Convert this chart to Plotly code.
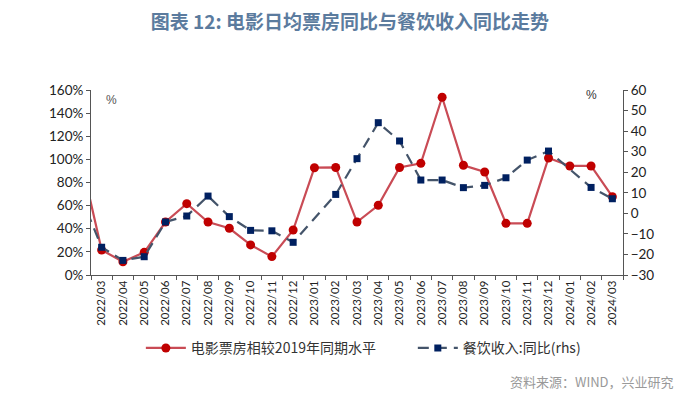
import plotly.graph_objects as go

months = ["2022/02", "2022/03", "2022/04", "2022/05", "2022/06", "2022/07", "2022/08", "2022/09",
          "2022/10", "2022/11", "2022/12", "2023/01", "2023/02", "2023/03", "2023/04",
          "2023/05", "2023/06", "2023/07", "2023/08", "2023/09", "2023/10", "2023/11",
          "2023/12", "2024/01", "2024/02", "2024/03"]

box_office = [1.02, 0.216, 0.115, 0.196, 0.458, 0.617, 0.458, 0.404, 0.26, 0.159, 0.389,
              0.928, 0.93, 0.458, 0.603, 0.93, 0.966, 1.537, 0.949, 0.891, 0.447, 0.447,
              1.012, 0.943, 0.943, 0.677]

catering = [8.9, -16.5, -22.9, -21.1, -4.2, -1.3, 8.4, -1.6, -8.3, -8.5, -14.1,
            None, 9.2, 26.6, 44.1, 35.2, 16.2, 16.2, 12.5, 13.6, 17.3, 25.9,
            30.3, None, 12.6, 7.1]

left_ticks = [0, 0.2, 0.4, 0.6, 0.8, 1.0, 1.2, 1.4, 1.6]
right_ticks = [-30, -20, -10, 0, 10, 20, 30, 40, 50, 60]

fig = go.Figure()
fig.add_trace(go.Scatter(
    x=months, y=box_office, name="电影票房相较2019年同期水平",
    mode="lines+markers", legend="legend",
    line=dict(color="#C94B55", width=2.2),
    marker=dict(color="#C00000", size=9, symbol="circle"),
    cliponaxis=True,
))
fig.add_trace(go.Scatter(
    x=months, y=catering, name="餐饮收入:同比(rhs)", yaxis="y2", legend="legend2",
    mode="lines+markers", connectgaps=True,
    line=dict(color="#44546A", width=2.2, dash="11px,7px"),
    marker=dict(color="#002060", size=7, symbol="square"),
    cliponaxis=True,
))

axis_font = dict(family="Lato, Liberation Sans, sans-serif", size=13.5, color="#222222")
legend_font = dict(family="Noto Sans CJK SC", size=14, color="#333333")

fig.update_layout(
    width=692, height=397,
    margin=dict(l=83, r=77, t=82, b=130, autoexpand=False),
    paper_bgcolor="white", plot_bgcolor="white",
    showlegend=True,
    legend=dict(orientation="h", xref="container", x=0.192, xanchor="left",
                y=-0.31, yanchor="top", font=legend_font, itemwidth=40),
    legend2=dict(orientation="h", xref="container", x=0.585, xanchor="left",
                 y=-0.31, yanchor="top", font=legend_font, itemwidth=40),
    title=dict(text="<b>图表 12: 电影日均票房同比与餐饮收入同比走势</b>", x=0.494, xanchor="center",
               y=0.965, yanchor="middle",
               font=dict(family="Noto Sans CJK SC", size=19, color="#5B7B9E")),
    xaxis=dict(type="category", range=[0.5, 25.5], showgrid=False,
               showline=True, linecolor="#555555", linewidth=1,
               ticks="outside", ticklen=4, tickcolor="#555555", tickson="boundaries",
               tickangle=-90, tickfont=dict(family="Lato, Liberation Sans, sans-serif", size=11.5, color="#222222")),
    yaxis=dict(range=[0, 1.6], tickvals=left_ticks, tickformat=".0%", showgrid=False,
               zeroline=False, showline=True, linecolor="#555555", linewidth=1,
               ticks="outside", ticklen=4, tickcolor="#555555", tickfont=axis_font),
    yaxis2=dict(range=[-30, 60], tickvals=right_ticks, overlaying="y", side="right",
                showgrid=False, zeroline=False, showline=True, linecolor="#555555",
                linewidth=1, ticks="outside", ticklen=4, tickcolor="#555555",
                tickfont=axis_font),
    annotations=[
        dict(text="%", xref="paper", yref="paper", x=0.025, y=0.995, showarrow=False,
             font=dict(family="Liberation Sans", size=12, color="#555555")),
        dict(text="%", xref="paper", yref="paper", x=0.955, y=1.02, showarrow=False,
             font=dict(family="Liberation Sans", size=12, color="#333333")),
        dict(text="资料来源：WIND，兴业研究", xref="paper", yref="paper", x=1.10, y=-0.64,
             xanchor="right", showarrow=False,
             font=dict(family="Noto Sans CJK SC", size=13, color="#999999")),
    ],
)

fig.write_html("out.html")
